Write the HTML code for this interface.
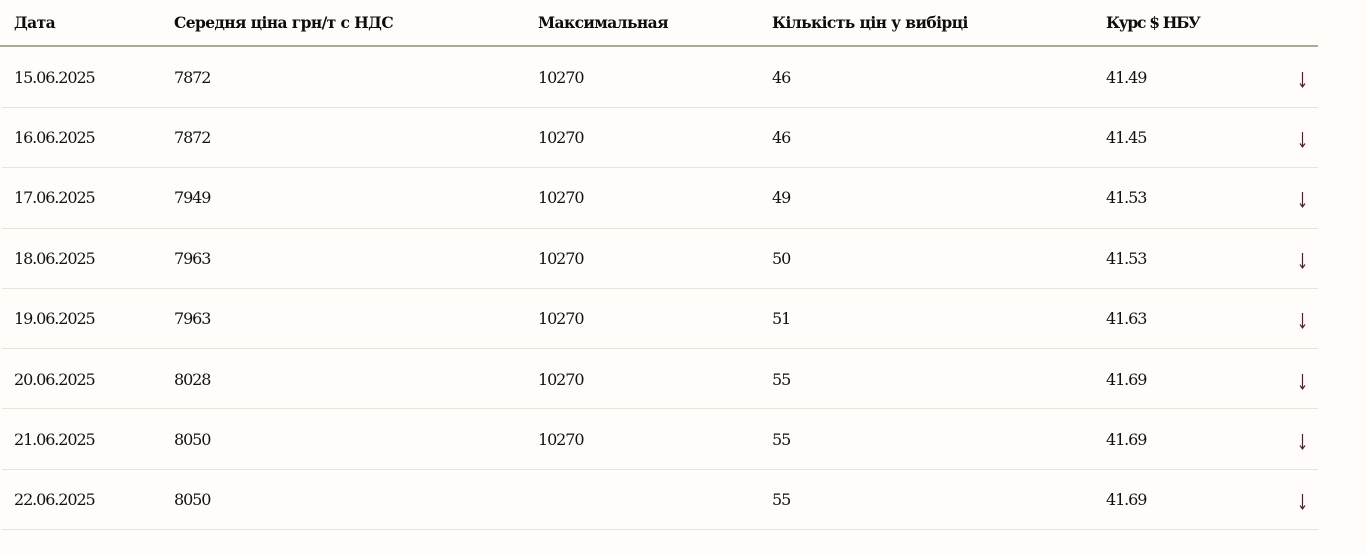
<!DOCTYPE html>
<html><head><meta charset="utf-8"><style>
html,body{margin:0;padding:0;background:#fffcf9;width:1366px;height:555px;overflow:hidden;}
body{position:relative;font-family:"DejaVu Serif","Liberation Serif",serif;color:#111;}
.h{position:absolute;top:13px;font-weight:bold;font-size:15.5px;letter-spacing:-0.6px;line-height:20px;white-space:nowrap;color:#0d0d0d;}
.hl{position:absolute;left:0;top:45px;width:1318px;height:2px;background:#a9ad98;}
.rl{position:absolute;left:2px;width:1316px;height:1px;background:#e7e3df;}
.c{position:absolute;font-size:16px;letter-spacing:-1.1px;line-height:20px;white-space:nowrap;color:#111;}
svg{position:absolute;left:0;top:0;}
</style></head><body>
<div class="h" style="left:14px">Дата</div>
<div class="h" style="left:174px">Середня ціна грн/т с НДС</div>
<div class="h" style="left:538px">Максимальная</div>
<div class="h" style="left:772px">Кількість цін у вибірці</div>
<div class="h" style="left:1106px;letter-spacing:-1.3px">Курс $ НБУ</div>
<div class="hl"></div>

<div class="rl" style="top:107px"></div>
<div class="rl" style="top:167px"></div>
<div class="rl" style="top:228px"></div>
<div class="rl" style="top:288px"></div>
<div class="rl" style="top:348px"></div>
<div class="rl" style="top:408px"></div>
<div class="rl" style="top:469px"></div>
<div class="rl" style="top:529px"></div>

<div class="c" style="left:14px;top:68px">15.06.2025</div><div class="c" style="left:174px;top:68px">7872</div><div class="c" style="left:538px;top:68px">10270</div><div class="c" style="left:772px;top:68px">46</div><div class="c" style="left:1106px;top:68px">41.49</div>
<div class="c" style="left:14px;top:128px">16.06.2025</div><div class="c" style="left:174px;top:128px">7872</div><div class="c" style="left:538px;top:128px">10270</div><div class="c" style="left:772px;top:128px">46</div><div class="c" style="left:1106px;top:128px">41.45</div>
<div class="c" style="left:14px;top:188px">17.06.2025</div><div class="c" style="left:174px;top:188px">7949</div><div class="c" style="left:538px;top:188px">10270</div><div class="c" style="left:772px;top:188px">49</div><div class="c" style="left:1106px;top:188px">41.53</div>
<div class="c" style="left:14px;top:249px">18.06.2025</div><div class="c" style="left:174px;top:249px">7963</div><div class="c" style="left:538px;top:249px">10270</div><div class="c" style="left:772px;top:249px">50</div><div class="c" style="left:1106px;top:249px">41.53</div>
<div class="c" style="left:14px;top:309px">19.06.2025</div><div class="c" style="left:174px;top:309px">7963</div><div class="c" style="left:538px;top:309px">10270</div><div class="c" style="left:772px;top:309px">51</div><div class="c" style="left:1106px;top:309px">41.63</div>
<div class="c" style="left:14px;top:370px">20.06.2025</div><div class="c" style="left:174px;top:370px">8028</div><div class="c" style="left:538px;top:370px">10270</div><div class="c" style="left:772px;top:370px">55</div><div class="c" style="left:1106px;top:370px">41.69</div>
<div class="c" style="left:14px;top:430px">21.06.2025</div><div class="c" style="left:174px;top:430px">8050</div><div class="c" style="left:538px;top:430px">10270</div><div class="c" style="left:772px;top:430px">55</div><div class="c" style="left:1106px;top:430px">41.69</div>
<div class="c" style="left:14px;top:490px">22.06.2025</div><div class="c" style="left:174px;top:490px">8050</div><div class="c" style="left:772px;top:490px">55</div><div class="c" style="left:1106px;top:490px">41.69</div>

<svg width="1366" height="555" xmlns="http://www.w3.org/2000/svg">
<g stroke="#4a2436" stroke-width="1.2" fill="none">
<path d="M1302.5 72V86M1300 83.5L1302.5 87L1305 83.5"/>
<path d="M1302.5 132V146M1300 143.5L1302.5 147L1305 143.5"/>
<path d="M1302.5 192V206M1300 203.5L1302.5 207L1305 203.5"/>
<path d="M1302.5 253V267M1300 264.5L1302.5 268L1305 264.5"/>
<path d="M1302.5 313V327M1300 324.5L1302.5 328L1305 324.5"/>
<path d="M1302.5 374V388M1300 385.5L1302.5 389L1305 385.5"/>
<path d="M1302.5 434V448M1300 445.5L1302.5 449L1305 445.5"/>
<path d="M1302.5 494V508M1300 505.5L1302.5 509L1305 505.5"/>
</g>
</svg>
</body></html>
